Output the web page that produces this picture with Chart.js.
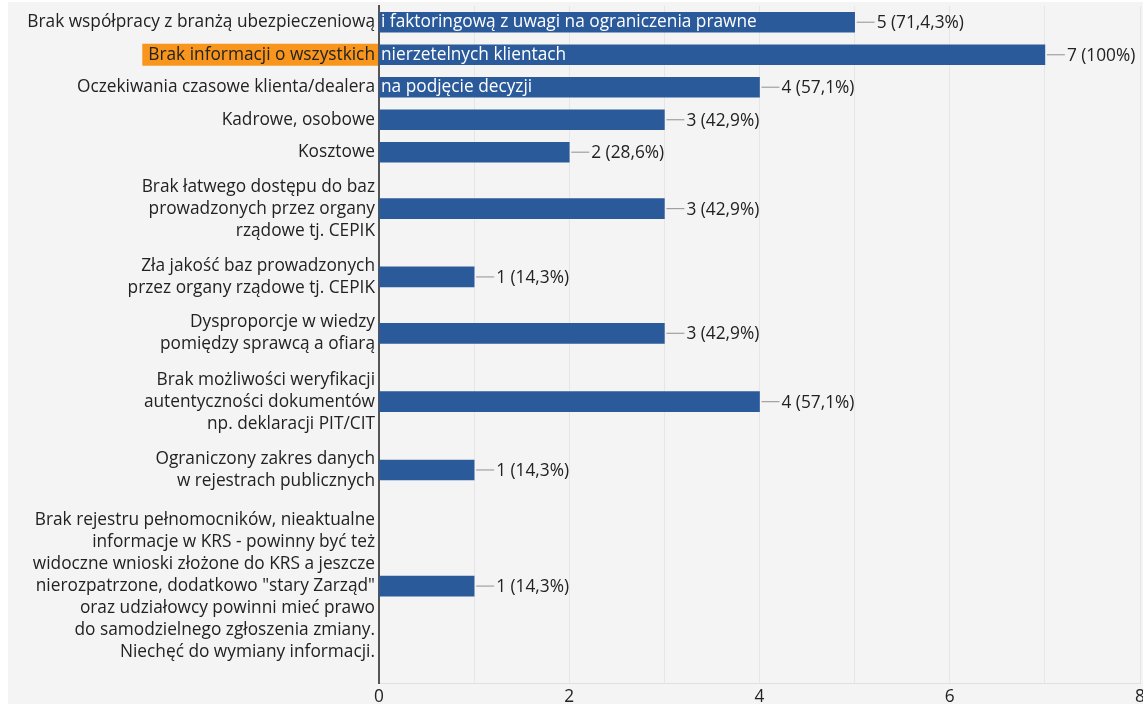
<!DOCTYPE html>
<html>
<head>
<meta charset="utf-8">
<script src="https://cdn.jsdelivr.net/npm/chart.js@4"></script>
<style>
  html, body { margin: 0; padding: 0; background: #fff; overflow: hidden; width: 1143px; height: 704px; }
  #wrap { position: absolute; left: 8px; top: 2px; width: 1160px; height: 702px; background: #f4f4f4; }
</style>
</head>
<body>
<div id="wrap"><canvas id="barChart" width="1160" height="702"></canvas></div>
<script>
// category labels, already wrapped the way the picture shows them
const labelLines = [
  ["Brak współpracy z branżą ubezpieczeniową"],
  ["Brak informacji o wszystkich"],
  ["Oczekiwania czasowe klienta/dealera"],
  ["Kadrowe, osobowe"],
  ["Kosztowe"],
  ["Brak łatwego dostępu do baz", "prowadzonych przez organy", "rządowe tj. CEPIK"],
  ["Zła jakość baz prowadzonych", "przez organy rządowe tj. CEPIK"],
  ["Dysproporcje w wiedzy", "pomiędzy sprawcą a ofiarą"],
  ["Brak możliwości weryfikacji", "autentyczności dokumentów", "np. deklaracji PIT/CIT"],
  ["Ograniczony zakres danych", "w rejestrach publicznych"],
  ["Brak rejestru pełnomocników, nieaktualne", "informacje w KRS - powinny być też",
   "widoczne wnioski złożone do KRS a jeszcze", "nierozpatrzone, dodatkowo \"stary Zarząd\"",
   "oraz udziałowcy powinni mieć prawo", "do samodzielnego zgłoszenia zmiany.",
   "Niechęć do wymiany informacji."]
];
// rest of the long labels, which run on over the bars
const labelTails = [
  "i faktoringową z uwagi na ograniczenia prawne",
  "nierzetelnych klientach",
  "na podjęcie decyzji",
  "", "", "", "", "", "", "", ""
];
const counts = [5, 7, 4, 3, 2, 3, 1, 3, 4, 1, 1];
const countLabels = ["5 (71,4,3%)", "7 (100%)", "4 (57,1%)", "3 (42,9%)", "2 (28,6%)", "3 (42,9%)",
  "1 (14,3%)", "3 (42,9%)", "4 (57,1%)", "1 (14,3%)", "1 (14,3%)"];
const xTicks = [0, 2, 4, 6, 8];
const highlighted = 1;

const FONT = "'Open Sans', 'Noto Sans', sans-serif";
const FSIZE = 17.3;
const BLUE = '#2b5a9b';

// row heights grow with the number of label lines
let acc = 0;
const rowCenters = labelLines.map(l => {
  const h = 8.6 + 23.9 * l.length;
  const c = acc + h / 2;
  acc += h;
  return c;
});
const rowsTotal = acc + 9;

const extras = {
  id: 'extras',
  beforeDraw(chart) {
    const { ctx, chartArea } = chart;
    const y = chart.scales.y.getPixelForValue(rowCenters[highlighted]);
    ctx.save();
    ctx.font = FSIZE + 'px ' + FONT;
    const w = ctx.measureText(labelLines[highlighted][0]).width;
    ctx.fillStyle = '#f7951d';
    ctx.fillRect(chartArea.left - 4 - w - 6, y - 11, w + 9, 22);
    ctx.restore();
  },
  afterDatasetsDraw(chart) {
    const { ctx, chartArea } = chart;
    const bars = chart.getDatasetMeta(0).data;
    ctx.save();
    ctx.font = FSIZE + 'px ' + FONT;
    ctx.textBaseline = 'middle';
    bars.forEach((bar, i) => {
      if (labelTails[i]) {
        ctx.fillStyle = '#ffffff';
        ctx.textAlign = 'left';
        ctx.fillText(labelTails[i], chartArea.left + 2, bar.y);
      }
      ctx.strokeStyle = '#a0a0a0';
      ctx.lineWidth = 1.2;
      ctx.beginPath();
      ctx.moveTo(bar.x + 2, bar.y);
      ctx.lineTo(bar.x + 20, bar.y);
      ctx.stroke();
      ctx.fillStyle = '#222';
      ctx.textAlign = 'left';
      ctx.fillText(countLabels[i], bar.x + 22, bar.y + 1);
    });
    ctx.restore();
  }
};

new Chart(document.getElementById('barChart'), {
  type: 'bar',
  data: {
    datasets: [{
      data: counts.map((v, i) => ({ x: v, y: rowCenters[i] })),
      backgroundColor: BLUE,
      barThickness: 20
    }]
  },
  options: {
    indexAxis: 'y',
    responsive: false,
    animation: false,
    events: [],
    layout: { padding: { top: 4, right: 28, bottom: 0, left: 0 } },
    plugins: { legend: { display: false }, tooltip: { enabled: false } },
    scales: {
      x: {
        type: 'linear',
        min: 0,
        max: 8,
        grid: { color: '#e6e6e6', drawTicks: false },
        border: { color: '#e0e0e0' },
        afterBuildTicks: s => { s.ticks = [0, 1, 2, 3, 4, 5, 6, 7, 8].map(v => ({ value: v })); },
        ticks: {
          autoSkip: false,
          padding: 4,
          color: '#222',
          font: { family: FONT, size: FSIZE },
          callback: v => xTicks.includes(v) ? String(v) : ''
        },
        afterFit: s => { s.height = 21; }
      },
      y: {
        type: 'linear',
        reverse: true,
        offset: false,
        min: 0,
        max: rowsTotal,
        grid: { display: false, drawTicks: false, offset: false },
        border: { display: true, color: '#555', width: 2 },
        afterBuildTicks: s => { s.ticks = rowCenters.map(v => ({ value: v })); },
        ticks: {
          autoSkip: false,
          padding: 4,
          color: '#222',
          font: { family: FONT, size: FSIZE, lineHeight: 22 / FSIZE },
          callback: (v, i) => labelLines[i]
        },
        afterFit: s => { s.width = 371; s.paddingTop = 0; s.paddingBottom = 0; }
      }
    }
  },
  plugins: [extras]
});
</script>
</body>
</html>
